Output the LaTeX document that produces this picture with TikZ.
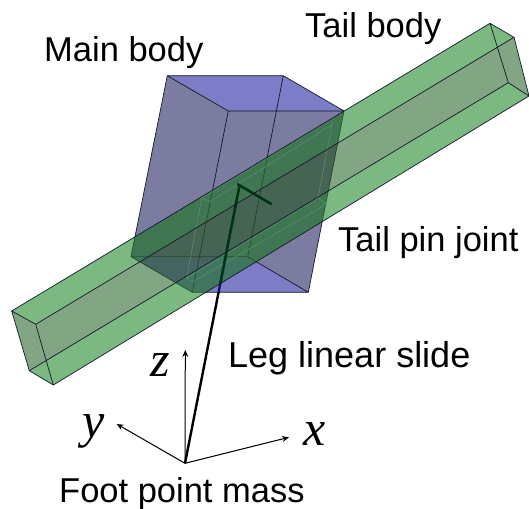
\documentclass[tikz,border=0pt]{standalone}
\usepackage{fontspec}
\setmainfont{Liberation Sans}
\newfontfamily\axisfont{Liberation Serif}
\usetikzlibrary{arrows.meta}
\definecolor{edgecol}{RGB}{20,25,40}
\definecolor{greentop}{RGB}{38,138,47}
\definecolor{greenmid}{RGB}{47,105,50}
\definecolor{bluetopc}{RGB}{38,38,163}
\definecolor{bluemid}{RGB}{38,38,97}
\definecolor{slabline}{RGB}{90,140,115}
\definecolor{legdark}{RGB}{0,50,25}
\tikzset{
 x=1pt,y=-1pt,
 lbl/.style={font=\fontsize{34.5}{36}\selectfont,inner sep=0pt,anchor=base west},
 axlbl/.style={font=\axisfont\itshape\fontsize{50}{50}\selectfont,inner sep=0pt,anchor=base west},
 edge/.style={draw=edgecol,line width=0.7pt},
 bluetopf/.style={fill=bluetopc,fill opacity=0.6},
 bluesidef/.style={fill=bluemid,fill opacity=0.6},
 greentopf/.style={fill=greentop,fill opacity=0.6},
 greensidef/.style={fill=greenmid,fill opacity=0.6},
 slab/.style={draw=slabline,line width=0.6pt},
 legline/.style={line width=2.4pt},
 axisline/.style={line width=1pt,-{Stealth[length=7pt,width=6pt,inset=2.5pt]}},
}
\begin{document}
\begin{tikzpicture}
\useasboundingbox (0,0) rectangle (529,508);
\fill[white] (0,0) rectangle (529,508);
% blue box
\coordinate (A) at (167.3,75.7); \coordinate (B) at (283.3,75.7);
\coordinate (C) at (344,111); \coordinate (D) at (228.3,111);
\coordinate (E) at (131,256.7); \coordinate (F) at (247.7,256.7);
\coordinate (G) at (308.3,292.3); \coordinate (H) at (192.3,292.3);
% tail
\coordinate (P1) at (11.7,311); \coordinate (P2) at (35.7,324.3);
\coordinate (P3) at (53.3,385); \coordinate (P4) at (29.3,370.7);
\coordinate (Q1) at (490,23.3); \coordinate (Q2) at (514,37.3);
\coordinate (Q3) at (529,96); \coordinate (Q4) at (508.3,82.7);
% pin slab
\coordinate (T1) at (201.7,198); \coordinate (T2) at (210,201.7);
\coordinate (U1) at (333.3,118); \coordinate (U2) at (333,124);
\coordinate (L1) at (186.7,278); \coordinate (L2) at (192.5,282);
\coordinate (R1) at (318,198); \coordinate (R2) at (326.7,204);
% foot and leg
\coordinate (foot) at (185,463.3);
\coordinate (hip) at (239.3,186.7);
\coordinate (barA) at (237.3,184); \coordinate (barB) at (271.7,204.3);
\coordinate (zt) at (185.3,350); \coordinate (yt) at (116.7,424); \coordinate (xt) at (289,437.3);
\draw[legline] (foot) -- (hip);
\draw[legline] (barA) -- (barB);
% blue faces
\fill[bluetopf] (A)--(B)--(C)--(D)--cycle;
\fill[bluetopf] (E)--(F)--(G)--(H)--cycle;
\fill[bluesidef] (A)--(D)--(C)--(G)--(F)--(E)--cycle;
\draw[edge] (A)--(B)--(C)--(G)--(H)--(E)--cycle (D)--(A) (D)--(C) (D)--(H) (B)--(F) (E)--(F)--(G);
% green faces
\fill[greentopf] (P1)--(Q1)--(Q2)--(P2)--cycle;
\fill[greentopf] (P4)--(Q4)--(Q3)--(P3)--cycle;
\fill[greensidef] (P2)--(Q2)--(Q3)--(Q4)--(P4)--cycle;
\fill[greensidef] (P1)--(P2)--(P4)--cycle;
% darker overlap of tail and body
\begin{scope}
\clip (A)--(B)--(C)--(G)--(H)--(E)--cycle;
\fill[black,fill opacity=0.1] (P1)--(Q1)--(Q2)--(Q3)--(P3)--(P4)--cycle;
\end{scope}
% slab
\draw[slab] (T2)--(T1)--(L1)--(L2)--(R2)--(R1)--(U1)--(T1) (L1)--(R1) (T2)--(U2);
% leg seen through the tail
\begin{scope}
\clip (P1)--(Q1)--(Q2)--(Q3)--(P3)--(P4)--cycle;
\draw[legline,legdark] (foot) -- (hip);
\draw[legline,legdark] (barA) -- (barB);
\end{scope}
% green edges
\draw[edge] (P1)--(Q1)--(Q2)--(P2)--cycle (P4)--(Q4)--(Q3)--(P3)--cycle (P1)--(P4) (P2)--(P3) (Q1)--(Q4) (Q2)--(Q3);
% axes
\draw[axisline] (foot) -- (zt);
\draw[axisline] (foot) -- (yt);
\draw[axisline] (foot) -- (xt);
\node[lbl] (main) at (44,62) {Main body};
\node[lbl] (tail) at (305,38) {Tail body};
\node[lbl] (pin) at (338,251) {Tail pin joint};
\node[lbl,font=\fontsize{36}{36}\selectfont] (leg) at (228,367) {Leg linear slide};
\node[lbl] (fp) at (59,502) {Foot point mass};
\node[axlbl] (zl) at (150,376) {z};
\node[axlbl] (yl) at (82,437) {y};
\node[axlbl] (xl) at (303,445) {x};
\end{tikzpicture}
\end{document}
